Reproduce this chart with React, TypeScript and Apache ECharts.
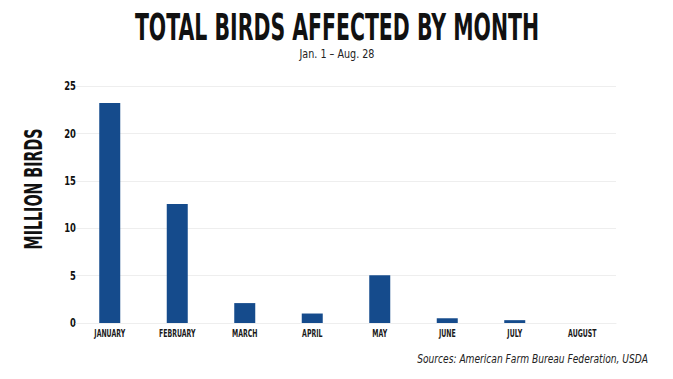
import React, { useEffect, useRef } from "react";
import * as echarts from "echarts";

const months = ["JANUARY", "FEBRUARY", "MARCH", "APRIL", "MAY", "JUNE", "JULY", "AUGUST"];
const birdsMillions = [23.2, 12.55, 2.1, 1.0, 5.05, 0.5, 0.3, 0];
const yTicks = [0, 5, 10, 15, 20, 25];

const FONT = "'DejaVu Sans', sans-serif";

export default function App() {
  const ref = useRef<HTMLDivElement>(null);
  useEffect(() => {
    if (!ref.current) return;
    const chart = echarts.init(ref.current, null, { renderer: "svg" });
    chart.setOption({
      animation: false,
      backgroundColor: "#ffffff",
      grid: { left: 76, right: 57, top: 86, bottom: 56, containLabel: false },
      xAxis: {
        type: "category",
        data: months,
        axisLine: { show: true, lineStyle: { color: "#eeeeee" } },
        axisTick: { show: false },
        axisLabel: { show: false },
      },
      yAxis: {
        type: "value",
        min: yTicks[0],
        max: yTicks[yTicks.length - 1],
        interval: 5,
        axisLine: { show: false },
        axisTick: { show: false },
        axisLabel: { show: false },
        splitLine: { lineStyle: { color: "#eeeeee", width: 1 } },
      },
      series: [
        {
          type: "bar",
          data: birdsMillions,
          barWidth: 21,
          itemStyle: { color: "#154b8c" },
        },
      ],
    });

    const graphics: any[] = [
      {
        type: "text",
        x: 337,
        y: 27,
        scaleX: 0.538,
        style: {
          text: "TOTAL BIRDS AFFECTED BY MONTH",
          fontFamily: FONT,
          fontWeight: "bold",
          fontSize: 38,
          fill: "#111111",
          align: "center",
          verticalAlign: "middle",
        },
      },
      {
        type: "text",
        x: 337,
        y: 54,
        scaleX: 0.8,
        style: {
          text: "Jan. 1 – Aug. 28",
          fontFamily: FONT,
          fontSize: 12,
          fill: "#222222",
          align: "center",
          verticalAlign: "middle",
        },
      },
      {
        type: "text",
        x: 33,
        y: 189,
        rotation: Math.PI / 2,
        scaleX: 0.57,
        style: {
          text: "MILLION BIRDS",
          fontFamily: FONT,
          fontWeight: "bold",
          fontSize: 25,
          fill: "#111111",
          align: "center",
          verticalAlign: "middle",
        },
      },
      {
        type: "text",
        x: 648,
        y: 359,
        scaleX: 0.76,
        style: {
          text: "Sources: American Farm Bureau Federation, USDA",
          fontFamily: FONT,
          fontStyle: "italic",
          fontSize: 12,
          fill: "#222222",
          align: "right",
          verticalAlign: "middle",
        },
      },
    ];

    months.forEach((m, i) => {
      const p = chart.convertToPixel({ gridIndex: 0 }, [i, 0]) as number[];
      graphics.push({
        type: "text",
        x: p[0],
        y: p[1] + 10,
        scaleX: 0.62,
        style: {
          text: m,
          fontFamily: FONT,
          fontWeight: "bold",
          fontSize: 10,
          fill: "#1a1a1a",
          align: "center",
          verticalAlign: "middle",
        },
      });
    });

    yTicks.forEach((v) => {
      const p = chart.convertToPixel({ gridIndex: 0 }, [0, v]) as number[];
      graphics.push({
        type: "text",
        x: 76,
        y: p[1],
        scaleX: 0.65,
        style: {
          text: String(v),
          fontFamily: FONT,
          fontWeight: "bold",
          fontSize: 13,
          fill: "#111111",
          align: "right",
          verticalAlign: "middle",
        },
      });
    });

    chart.setOption({ graphic: graphics });
    return () => chart.dispose();
  }, []);
  return (
    <div
      ref={ref}
      style={{ position: "absolute", left: 0, top: 0, width: 673, height: 379 }}
    />
  );
}
